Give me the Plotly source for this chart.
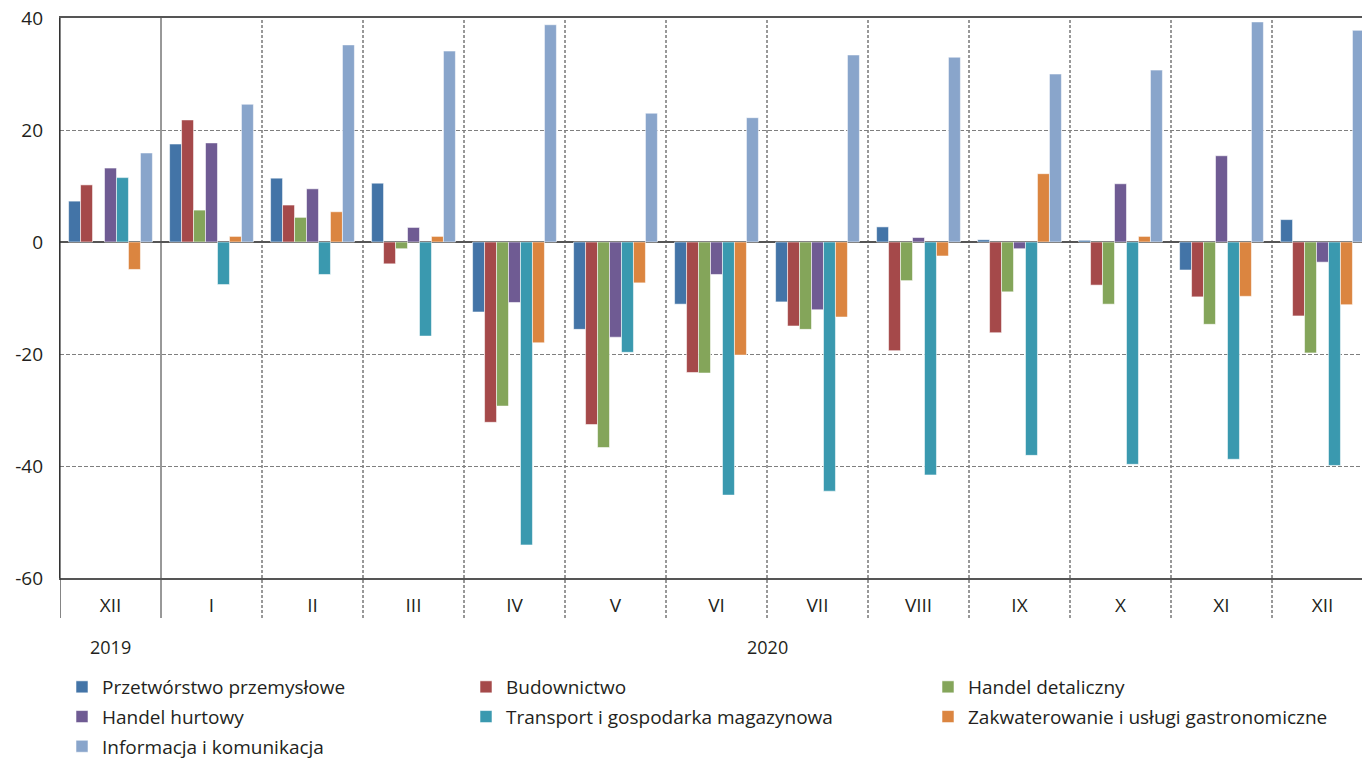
import plotly.graph_objects as go

cats = ["XII", "I", "II", "III", "IV", "V", "VI", "VII", "VIII", "IX", "X", "XI", "XII"]
years = ["2019", "2020"]

names = [
    "Przetwórstwo przemysłowe",
    "Budownictwo",
    "Handel detaliczny",
    "Handel hurtowy",
    "Transport i gospodarka magazynowa",
    "Zakwaterowanie i usługi gastronomiczne",
    "Informacja i komunikacja",
]

przetworstwo = [7.3, 17.5, 11.4, 10.5, -12.5, -15.6, -11.1, -10.7, 2.7, 0.4, 0.3, -5.0, 4.0]
budownictwo = [10.2, 21.8, 6.6, -3.9, -32.2, -32.6, -23.3, -15.0, -19.4, -16.2, -7.7, -9.8, -13.2]
detaliczny = [None, 5.7, 4.4, -1.2, -29.3, -36.7, -23.4, -15.6, -6.9, -8.9, -11.1, -14.7, -19.8]
hurtowy = [13.2, 17.7, 9.5, 2.6, -10.8, -17.0, -5.8, -12.1, 0.8, -1.2, 10.4, 15.4, -3.6]
transport = [11.5, -7.6, -5.8, -16.8, -54.1, -19.7, -45.2, -44.5, -41.6, -38.1, -39.7, -38.8, -39.9]
zakwaterowanie = [-4.9, 1.0, 5.4, 1.0, -18.0, -7.3, -20.2, -13.4, -2.5, 12.2, 1.0, -9.7, -11.2]
informacja = [15.9, 24.6, 35.2, 34.1, 38.8, 23.0, 22.2, 33.4, 33.0, 30.0, 30.7, 39.3, 37.8]

series = [przetworstwo, budownictwo, detaliczny, hurtowy, transport, zakwaterowanie, informacja]
colors = ["#4374A7", "#A5494A", "#84A55A", "#6F5B93", "#3A99AF", "#DB8540", "#89A5CB"]
legend_of = ["legend", "legend2", "legend3", "legend", "legend2", "legend3", "legend"]

y_ticks = [-60, -40, -20, 0, 20, 40]
y_ticktext = ["-60", "-40", "-20", "0", "20", "40"]

FONT = "Open Sans, Noto Sans, sans-serif"
x = list(range(len(cats)))

fig = go.Figure()
for name, vals, col, lg in zip(names, series, colors, legend_of):
    fig.add_trace(go.Bar(
        x=x, y=vals, name=name, legend=lg, legendgroup=name,
        marker=dict(color=col, line=dict(color="rgba(255,255,255,0.55)", width=1)),
    ))

# plot geometry (page body margin removed via post_script)
FW, FH = 1362, 762
L, T, H = 60, 18, 560
W = FW - L
B = FH - T - H
CAT_PX = 101.0
fig.update_layout(
    width=FW, height=FH,
    margin=dict(l=L, r=0, t=T, b=B, autoexpand=False),
    paper_bgcolor="white", plot_bgcolor="white",
    barmode="group", bargap=0.17, bargroupgap=0,
    font=dict(family=FONT, size=18, color="#231f20"),
)

fig.update_xaxes(
    range=[-0.5, -0.5 + W / CAT_PX], automargin=False,
    tickvals=x, ticktext=cats, ticks="", ticklabelstandoff=9,
    showgrid=False, zeroline=False,
    showline=True, mirror=True, linecolor="#555555", linewidth=1.5,
    tickfont=dict(size=19),
)
fig.update_yaxes(
    range=[-60, 40], tickvals=y_ticks, ticktext=y_ticktext, automargin=False,
    ticks="", ticklabelstandoff=12, ticklabeloverflow="allow",
    showgrid=True, gridcolor="#7f7f7f", griddash="4px,2px", gridwidth=1,
    zeroline=True, zerolinecolor="#555555", zerolinewidth=2,
    showline=True, linecolor="#333333", linewidth=1.2,
    tickfont=dict(size=19),
)

# category separators (extend below the axis)
below = -40.0 / H
shapes = [dict(type="line", xref="x", yref="paper", x0=-0.5, x1=-0.5, y0=below, y1=1,
               line=dict(color="#333333", width=1.2), layer="above")]
for i in range(1, len(cats)):
    shapes.append(dict(
        type="line", xref="x", yref="paper", x0=i - 0.5, x1=i - 0.5, y0=below, y1=1,
        line=dict(color="#333333", width=1, dash="solid" if i == 1 else "3px,2px"),
        layer="below",
    ))
fig.update_layout(shapes=shapes)

# year labels
ya = -(647 - (T + H)) / H
fig.add_annotation(x=0, y=ya, xref="x", yref="paper", text=years[0], showarrow=False,
                   font=dict(size=18), xanchor="center", yanchor="middle")
fig.add_annotation(x=(1 + len(cats) - 1) / 2, y=ya, xref="x", yref="paper", text=years[1],
                   showarrow=False, font=dict(size=18), xanchor="center", yanchor="middle")

leg_common = dict(orientation="v", yanchor="top", xanchor="left", tracegroupgap=2,
                  font=dict(size=19, family=FONT), bgcolor="rgba(0,0,0,0)", itemwidth=30,
                  traceorder="grouped")
ly = -(668 - (T + H)) / H
fig.update_layout(
    legend=dict(x=(62 - L) / W, y=ly, **leg_common),
    legend2=dict(x=(466 - L) / W, y=ly, **leg_common),
    legend3=dict(x=(928 - L) / W, y=ly, **leg_common),
)

fig.write_html(
    "out.html",
    config={"displayModeBar": False},
    post_script="document.body.style.margin='0';document.body.style.overflow='hidden';",
)
